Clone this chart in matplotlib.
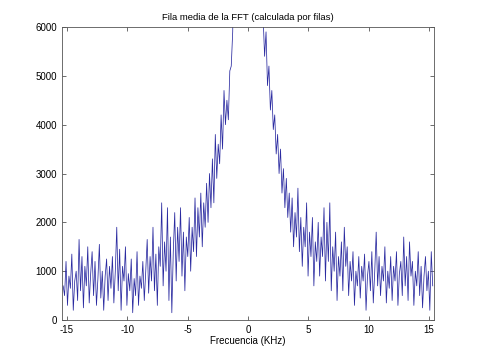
import numpy as np
import matplotlib
matplotlib.use('Agg')
import matplotlib.pyplot as plt

# valores leidos a ojo de la figura (mitad negativa y mitad positiva)
amp_neg = [700, 500, 1200, 300, 900, 650, 1350, 200, 800, 1000,
           400, 1650, 600, 1300, 250, 1100, 700, 1500, 350, 950,
           1400, 500, 1200, 300, 850, 1550, 450, 1000, 200, 900,
           1250, 400, 1100, 650, 1300, 350, 1000, 1900, 600, 1450,
           200, 1100, 800, 1500, 300, 950, 600, 1250, 150, 850,
           500, 1400, 300, 900, 650, 1200, 400, 1000, 1650, 550,
           1300, 800, 1900, 600, 1350, 300, 1500, 1100, 2400, 700,
           1600, 1000, 2300, 400, 1700, 150, 1400, 2200, 800, 1900,
           1200, 2300, 900, 1800, 600, 1700, 1300, 2100, 1000, 1900,
           1400, 2500, 1300, 2300, 1700, 2600, 1500, 2400, 1900, 2800,
           2000, 3000, 2300, 3300, 2400, 3800, 2900, 3600, 3200, 4200,
           3500, 4700, 4000, 4500, 4100, 5100, 5200, 5900, 8000, 10000,
           12000, 15000, 18000, 22000, 26000, 30000, 33000, 35000]
amp_pos = [35000, 33000, 30000, 26000, 22000, 18000, 14000, 11000, 9500, 7800,
           6200, 5400, 5900, 4800, 5200, 4300, 4700, 3900, 4200, 3400,
           3800, 3000, 3500, 2600, 3100, 2300, 2900, 2100, 2600, 1800,
           2500, 1500, 2200, 1700, 2700, 1400, 2100, 1100, 1900, 1500,
           2400, 900, 1800, 1300, 2100, 700, 1600, 1200, 2000, 900,
           1700, 1300, 2300, 800, 2000, 1200, 2400, 600, 1500, 1000,
           1800, 400, 1300, 900, 1600, 600, 1900, 1100, 1500, 500,
           1200, 800, 1400, 300, 1000, 700, 1300, 450, 1100, 800,
           1350, 200, 900, 1200, 600, 1400, 350, 1000, 1800, 700,
           1300, 500, 1100, 800, 1500, 350, 1000, 650, 1300, 400,
           1100, 800, 1400, 300, 950, 1200, 500, 1700, 700, 1300,
           400, 1600, 900, 1200, 300, 1000, 700, 1400, 500, 1100,
           250, 900, 1300, 600, 1000, 200, 1400, 700]

amp = np.array(amp_neg + amp_pos)
freq = np.linspace(-15.3, 15.3, len(amp))

xticks = [-15, -10, -5, 0, 5, 10, 15]
yticks = [0, 1000, 2000, 3000, 4000, 5000, 6000]

plt.rcParams['font.family'] = ['Liberation Sans', 'DejaVu Sans']
plt.rcParams['axes.unicode_minus'] = False
fig = plt.figure(figsize=(4.8, 3.6), dpi=100)
ax = fig.add_axes([0.129, 0.111, 0.775, 0.814])
ax.plot(freq, amp, color='#2a2aa0', linewidth=0.55)
ax.set_xlim(-15.4, 15.4)
ax.set_ylim(0, 6000)
ax.set_xticks(xticks)
ax.set_yticks(yticks)
ax.tick_params(direction='in', top=True, right=True, labelsize=7,
               length=3, width=0.5, colors='#333333', labelcolor='black')
for s in ax.spines.values():
    s.set_linewidth(0.6)
    s.set_color('#555555')
ax.set_title('Fila media de la FFT (calculada por filas)', fontsize=6.8, pad=5)
ax.set_xlabel('Frecuencia (KHz)', fontsize=7, labelpad=1)
fig.savefig('out.png', dpi=100)
